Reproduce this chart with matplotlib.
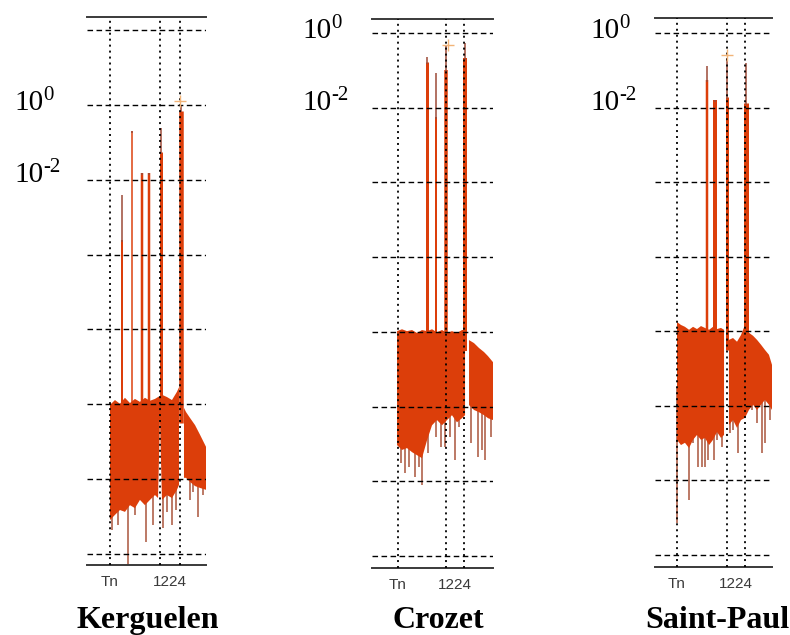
import matplotlib.pyplot as plt
import numpy as np

names = ['Kerguelen', 'Crozet', 'Saint-Paul']
tick_labels = ['Tn', '1224']
exp_base = '10'
exp_powers = ['0', '-2']

# x is 0..100 across each panel, y values are log10 of the spectrum

# Kerguelen
k_lines = [19.3, 61.3, 78.2]
k_grid = [2, 0, -2, -4, -6, -8, -10, -12]
k_band_x = [19.3, 23.5, 27.7, 31.9, 36.1, 40.3, 44.5, 48.7, 52.9, 57.1, 59.7, 61.3, 63.0, 67.2, 71.4, 75.6, 77.3,
            np.nan, 81.5, 83.2, 86.6, 90.8, 95.0, 100]
k_band_top = [-8.02, -7.89, -7.99, -7.83, -7.97, -7.86, -7.94, -7.83, -7.91, -7.86, -7.81, -7.78, -7.75, -7.81, -7.89,
              -7.67, -7.55, np.nan, -8.10, -8.21, -8.37, -8.56, -8.82, -9.14]
k_band_bot = [-11.10, -10.96, -10.83, -10.88, -10.70, -10.78, -10.56, -10.70, -10.56, -10.43, -10.51, -8.40, -10.56,
              -10.43, -10.51, -10.29, -10.16, np.nan, -9.97, -9.97, -10.08, -10.19, -10.24, -10.29]
k_spike_x = [21.0, 26.1, 34.5, 40.3, 49.6, 55.5, 63.9, 67.2, 71.4, 74.8, 86.6, 89.1, 93.3, 97.5]
k_spike_y = [-11.36, -11.23, -12.43, -10.96, -11.68, -11.23, -11.31, -10.88, -11.23, -10.83, -10.56, -10.35, -11.02, -10.43]
k_peak_x = [29.2, 37.6, 46.5, 52.1, 62.2, 79.0]
k_peak_top = [-2.41, -0.71, -1.82, -1.82, -0.62, 0.0]
k_peak_shoulder = [-3.61, -0.71, -1.82, -1.82, -1.26, -0.15]
k_mark = (78.2, 0.11)

# Crozet
c_lines = [21.5, 61.2, 76.0]
c_grid = [0, -2, -4, -6, -8, -10, -12, -14]
c_band_x = [20.7, 24.8, 28.9, 33.1, 37.2, 41.3, 45.5, 49.6, 53.7, 57.9, 62.0, 66.1, 70.2, 74.4, 76.9,
            np.nan, 80.2, 84.3, 88.4, 92.6, 95.9, 100]
c_band_top = [-7.98, -7.93, -7.98, -7.95, -8.03, -7.95, -7.98, -7.93, -8.01, -7.95, -8.03, -7.98, -8.03, -7.95, -7.95,
              np.nan, -8.22, -8.30, -8.43, -8.54, -8.65, -8.81]
c_band_bot = [-11.03, -11.16, -11.11, -11.22, -11.30, -11.38, -10.90, -10.50, -10.36, -10.50, -10.36, -10.23, -10.42,
              -10.31, -10.23, np.nan, -9.96, -10.09, -10.15, -10.23, -10.31, -10.36]
c_spike_x = [24.0, 27.3, 30.6, 35.5, 38.8, 41.3, 46.3, 52.9, 57.0, 60.3, 64.5, 68.6, 71.9, 81.8, 87.6, 90.9, 93.4, 98.3]
c_spike_y = [-11.51, -11.78, -11.62, -11.89, -11.62, -12.10, -11.24, -10.82, -11.08, -11.08, -10.82, -11.43, -10.55,
             -10.98, -11.35, -11.16, -11.43, -10.82]
c_peak_x = [45.7, 52.6, 60.9, 76.6]
c_peak_top = [-0.65, -1.06, -0.32, -0.27]
c_peak_shoulder = [-0.78, -2.25, -0.99, -0.67]
c_mark = (62.8, -0.32)

# Saint-Paul
s_lines = [18.8, 61.5, 76.9]
s_grid = [0, -2, -4, -6, -8, -10, -12, -14]
s_band_x = [18.8, 22.2, 25.6, 29.1, 32.5, 35.9, 39.3, 42.7, 46.2, 49.6, 53.0, 56.4, 59.0,
            np.nan, 63.2, 66.7, 70.1, 73.5, 76.9, 80.3, 83.8, 87.2, 90.6, 94.0, 97.4, 100]
s_band_top = [-7.75, -7.83, -7.88, -7.96, -7.88, -7.94, -7.86, -7.91, -7.96, -7.88, -7.94, -7.91, -7.96,
              np.nan, -8.23, -8.18, -8.28, -8.10, -7.83, -8.04, -8.12, -8.23, -8.36, -8.50, -8.63, -8.90]
s_band_bot = [-10.91, -11.05, -10.99, -11.13, -10.91, -10.78, -10.91, -10.86, -11.05, -10.91, -10.70, -10.86, -10.78,
              np.nan, -10.51, -10.38, -10.59, -10.38, -10.32, -10.11, -9.97, -10.11, -9.97, -9.84, -9.97, -10.11]
s_spike_x = [18.8, 22.2, 25.6, 29.1, 32.5, 36.8, 40.2, 42.7, 45.3, 50.4, 53.0, 57.3, 64.1, 66.7, 70.9, 74.4, 82.9,
             87.2, 91.5, 94.0, 98.3]
s_spike_y = [-13.14, -10.99, -10.91, -12.52, -10.99, -11.64, -11.64, -11.64, -11.45, -11.45, -10.91, -11.10, -10.72,
             -10.64, -11.26, -10.29, -10.11, -10.46, -11.26, -10.99, -10.38]
s_peak_x = [44.2, 51.5, 61.8, 77.5]
s_peak_top = [-0.90, -1.80, -0.68, -0.81]
s_peak_shoulder = [-1.26, -1.80, -1.71, -1.88]
s_mark = (61.5, -0.59)

# layout (pixels in a 790x635 image) and styles
axes_px = [(87, 17, 119, 548), (372, 19, 121, 549), (655, 18, 117, 549)]
ylims = [(-12.3, 2.35), (-14.32, 0.375), (-14.32, 0.4)]
peak_widths = [[2, 1.5, 2.5, 2.5, 3, 4.5], [3, 2, 3.5, 4], [2.5, 4, 3, 5]]
label_pos = [(14, 110, 182), (302, 38, 110), (590, 38, 110)]
title_x = [148, 438, 717]

band_color = '#DC3E0A'
thin_color = '#9C4A38'
spike_color = '#A9553C'

W, H = 790, 635


def drawPanel(ax, lines, grid, bx, btop, bbot, sx, sy, px, ptop, pshoulder, widths, mark, ylim):
    bx = np.array(bx, dtype=float)
    btop = 10.0 ** np.array(btop, dtype=float)
    bbot = 10.0 ** np.array(bbot, dtype=float)
    # downward spikes of the noise floor
    ax.vlines(sx, 10.0 ** np.array(sy), 10.0 ** -9.5, color=spike_color, lw=1.1, zorder=2)
    # the noise floor itself
    ax.fill_between(bx, bbot, btop, color=band_color, lw=0, zorder=3)
    # tidal peaks: thick body and thin tip
    for x, t, s, w in zip(px, ptop, pshoulder, widths):
        ax.vlines(x, 10.0 ** -8.5, 10.0 ** s, color=band_color, lw=w * 0.72, zorder=4)
        ax.vlines(x, 10.0 ** (s - 0.05), 10.0 ** t, color=thin_color, lw=1.1, zorder=4)
    ax.plot(mark[0], 10.0 ** mark[1], '+', color='#F2B478', ms=9, mew=1, zorder=6)

    for e in grid:
        ax.axhline(10.0 ** e, color='k', lw=1.0, ls=(0, (4, 2.5)), zorder=5)
    for v in lines:
        ax.axvline(v, color='k', lw=1.3, ls=(0, (1.1, 2.2)), zorder=5)

    ax.set_yscale('log')
    ax.set_ylim(10.0 ** ylim[0], 10.0 ** ylim[1])
    ax.set_xlim(0, 100)
    ax.yaxis.set_major_locator(plt.NullLocator())
    ax.yaxis.set_minor_locator(plt.NullLocator())
    # "1224" sits between the 12 h and 24 h lines
    ax.set_xticks([lines[0], (lines[1] + lines[2]) / 2])
    ax.set_xticklabels(tick_labels, family='Liberation Sans', fontsize=11, color='#3a3a3a')
    ax.tick_params(axis='x', length=0, pad=7)
    ax.spines['left'].set_visible(False)
    ax.spines['right'].set_visible(False)
    for side in ['top', 'bottom']:
        ax.spines[side].set_color('#3a3a3a')
        ax.spines[side].set_linewidth(1.4)


fig = plt.figure(figsize=(7.9, 6.35), dpi=100)

panels = [
    (k_lines, k_grid, k_band_x, k_band_top, k_band_bot, k_spike_x, k_spike_y, k_peak_x, k_peak_top, k_peak_shoulder, k_mark),
    (c_lines, c_grid, c_band_x, c_band_top, c_band_bot, c_spike_x, c_spike_y, c_peak_x, c_peak_top, c_peak_shoulder, c_mark),
    (s_lines, s_grid, s_band_x, s_band_top, s_band_bot, s_spike_x, s_spike_y, s_peak_x, s_peak_top, s_peak_shoulder, s_mark),
]

for i, p in enumerate(panels):
    x0, y0, w, h = axes_px[i]
    ax = fig.add_axes([x0 / W, 1 - (y0 + h) / H, w / W, h / H])
    lines, grid, bx, btop, bbot, sx, sy, px, ptop, pshoulder, mark = p
    drawPanel(ax, lines, grid, bx, btop, bbot, sx, sy, px, ptop, pshoulder, peak_widths[i], mark, ylims[i])

    # 10^0 and 10^-2 labels: base and superscript as separate texts
    lx, ly0, ly2 = label_pos[i]
    for ly, pw in zip([ly0, ly2], exp_powers):
        fig.text(lx / W, 1 - ly / H, exp_base, family='Liberation Serif', fontsize=21, va='baseline', ha='left')
        fig.text((lx + 29) / W, 1 - (ly - 10) / H, pw, family='Liberation Serif', fontsize=15,
                 va='baseline', ha='left')
    fig.text(title_x[i] / W, 1 - 628 / H, names[i], family='Liberation Serif', fontweight='bold',
             fontsize=23, ha='center', va='baseline')

fig.savefig('out.png', dpi=100)
